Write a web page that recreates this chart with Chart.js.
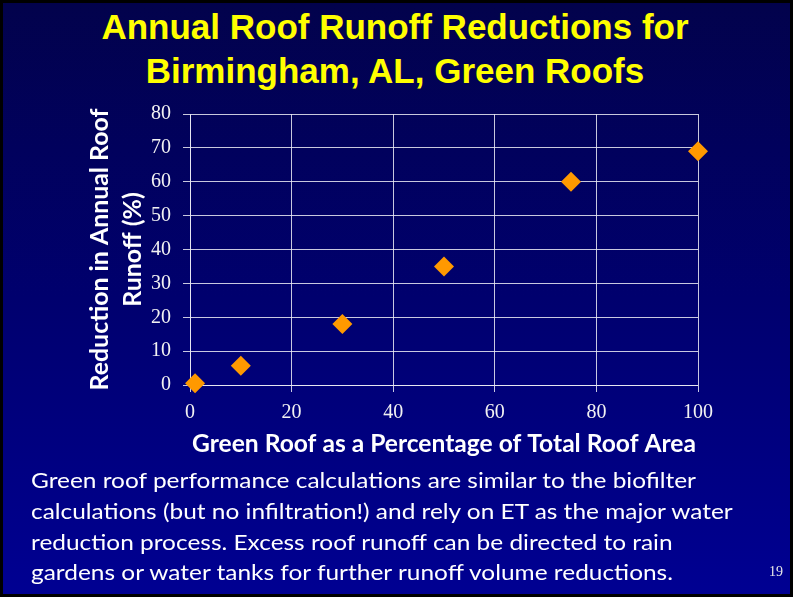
<!DOCTYPE html>
<html>
<head>
<meta charset="utf-8">
<script src="https://cdn.jsdelivr.net/npm/chart.js@4/dist/chart.umd.min.js"></script>
<style>
  html, body { margin: 0; padding: 0; background: #000; }
  #slide {
    position: relative; width: 793px; height: 597px; overflow: hidden;
    box-sizing: border-box; border: 3px solid #000;
    background: linear-gradient(to bottom, #02024c 0%, #00006e 50%, #000092 100%);
  }
  #title {
    position: absolute; left: -3px; top: 2px; width: 790px; text-align: center;
    font: bold 35px/44px "Liberation Sans", Arial, sans-serif; color: #ffff00;
    white-space: nowrap;
  }
  #chartBox { position: absolute; left: -3px; top: -3px; width: 793px; height: 597px; }
  #notes {
    position: absolute; left: 28px; top: 462px; white-space: nowrap;
    font: 21.5px/30.8px Lato, sans-serif; color: #ffffff; transform-origin: 0 0;
  }
  #pageNo {
    position: absolute; left: 766px; top: 561px;
    font: 14px "Liberation Serif", "Times New Roman", serif; color: #e8e8e8;
  }
</style>
</head>
<body>
<div id="slide">
  <div id="title">Annual Roof Runoff Reductions for<br>Birmingham, AL, Green Roofs</div>
  <div id="chartBox"><canvas id="chart" width="793" height="597"></canvas></div>
  <div id="notes">
    <div>Green roof performance calculations are similar to the biofilter</div>
    <div>calculations (but no infiltration!) and rely on ET as the major water</div>
    <div>reduction process. Excess roof runoff can be directed to rain</div>
    <div>gardens or water tanks for further runoff volume reductions.</div>
  </div>
  <div id="pageNo">19</div>
</div>
<script>
// Green roof coverage (% of total roof area) and resulting annual runoff reduction (%)
const roofShare = [1, 10, 30, 50, 75, 100];
const runoffReduction = [0.5, 5.7, 18, 35, 60, 69];

const xAxisTitle = 'Green Roof as a Percentage of Total Roof Area';
const yAxisTitle = ['Reduction in Annual Roof', 'Runoff (%)'];

const xRange = { min: 0, max: 100, step: 20 };
const yRange = { min: 0, max: 80, step: 10 };

// size a bold Lato title so its first line spans the wanted width
function fitSize(text, width) {
  const c = document.createElement('canvas').getContext('2d');
  c.font = 'bold 26px Lato';
  return 26 * width / c.measureText(text).width;
}
const xTitleSize = fitSize(xAxisTitle, 504);
const yTitleSize = fitSize(yAxisTitle[0], 282);

// squeeze the note lines to the slide's text width
(function () {
  const notes = document.getElementById('notes');
  const first = notes.firstElementChild;
  const range = document.createRange();
  range.selectNodeContents(first);
  const w = range.getBoundingClientRect().width;
  notes.style.transform = 'scaleX(' + (665 / w) + ')';
})();

const gridColor = 'rgba(235,235,245,0.85)';
const tickFont = { family: '"Liberation Serif", "Times New Roman", serif', size: 20 };

new Chart(document.getElementById('chart'), {
  type: 'scatter',
  data: {
    datasets: [{
      data: roofShare.map((x, i) => ({ x: x, y: runoffReduction[i] })),
      pointStyle: 'rectRot',
      pointRadius: 10,
      pointHoverRadius: 10,
      borderWidth: 0,
      backgroundColor: '#ff9900',
      borderColor: '#ff9900',
      clip: false
    }]
  },
  options: {
    responsive: false,
    animation: false,
    events: [],
    layout: { padding: { left: 0, top: 114, right: 95, bottom: 137 } },
    plugins: { legend: { display: false }, tooltip: { enabled: false } },
    scales: {
      x: {
        type: 'linear', min: xRange.min, max: xRange.max,
        afterFit: s => { s.height = 75; },
        ticks: { stepSize: xRange.step, color: '#f2f2f2', font: tickFont, padding: 9, maxRotation: 0 },
        grid: { color: gridColor, lineWidth: 1, tickLength: 7, drawTicks: true },
        border: { color: gridColor, width: 1 },
        title: {
          display: true, text: xAxisTitle, color: '#ffffff',
          font: { family: 'Lato', weight: 'bold', size: xTitleSize },
          padding: { top: 0, bottom: 1 }
        }
      },
      y: {
        type: 'linear', min: yRange.min, max: yRange.max,
        afterFit: s => { s.width = 190; },
        ticks: { stepSize: yRange.step, color: '#f2f2f2', font: tickFont, padding: 12 },
        grid: { color: gridColor, lineWidth: 1, tickLength: 7, drawTicks: true },
        border: { color: gridColor, width: 1 },
        title: {
          display: true, text: yAxisTitle, color: '#ffffff',
          font: { family: 'Lato', weight: 'bold', size: yTitleSize, lineHeight: 32.4 / yTitleSize },
          padding: { top: 84, bottom: 0 }
        }
      }
    }
  }
});
</script>
</body>
</html>
